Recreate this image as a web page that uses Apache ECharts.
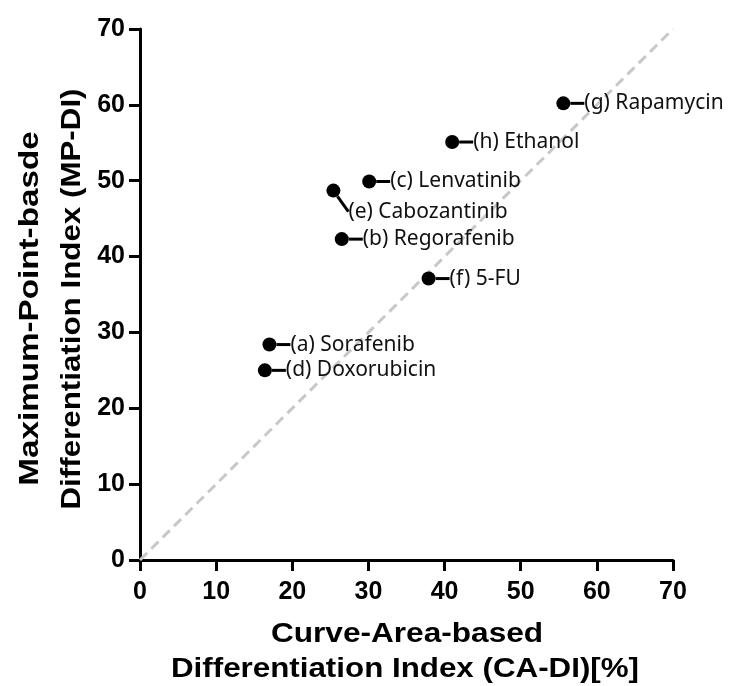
<!DOCTYPE html>
<html>
<head>
<meta charset="utf-8">
<script src="https://cdn.jsdelivr.net/npm/echarts@6/dist/echarts.min.js"></script>
<style>html,body{margin:0;padding:0;background:#fff;}#c{width:736px;height:686px;}</style>
</head>
<body>
<div id="c"></div>
<script>
const names = ['(a) Sorafenib','(b) Regorafenib','(c) Lenvatinib','(d) Doxorubicin','(e) Cabozantinib','(f) 5-FU','(g) Rapamycin','(h) Ethanol'];
const caDI = [17.0, 26.5, 30.1, 16.4, 25.4, 37.9, 55.6, 41.0];
const mpDI = [28.4, 42.3, 49.9, 25.0, 48.7, 37.1, 60.2, 55.1];
const refLine = [[0,0],[70,70]];
const xTitle = ['Curve-Area-based', 'Differentiation Index (CA-DI)[%]'];
const yTitle = ['Maximum-Point-basde', 'Differentiation Index (MP-DI)'];

const chart = echarts.init(document.getElementById('c'), null, {renderer:'canvas'});
const FF = 'Liberation Sans, Arial, sans-serif';
const axisFont = {fontFamily:FF, fontWeight:'bold', color:'#000'};
function title(text, x, y, rot, sx){
  return {type:'text', x:x, y:y, rotation:rot, scaleX:sx, silent:true,
    style:{text:text, x:0, y:0, fontSize:27, fontWeight:'bold', fontFamily:FF, fill:'#000',
      align:'center', verticalAlign:'middle', textAlign:'center', textVerticalAlign:'middle'}};
}
chart.setOption({
  animation:false,
  grid:{left:140, right:63, top:29, bottom:126, outerBoundsMode:'none', containLabel:false},
  xAxis:{
    type:'value', min:0, max:70, interval:10,
    axisLine:{show:true, onZero:false, lineStyle:{color:'#000', width:3}},
    axisTick:{show:true, length:11, lineStyle:{color:'#000', width:3}},
    splitLine:{show:false},
    axisLabel:Object.assign({fontSize:25, margin:20}, axisFont)
  },
  yAxis:{
    type:'value', min:0, max:70, interval:10,
    axisLine:{show:true, onZero:false, lineStyle:{color:'#000', width:3}},
    axisTick:{show:true, length:11, lineStyle:{color:'#000', width:3}},
    splitLine:{show:false},
    axisLabel:Object.assign({fontSize:25, margin:15}, axisFont)
  },
  graphic:[
    title(xTitle[0], 407, 634.5, 0, 1.17),
    title(xTitle[1], 405, 670, 0, 1.16),
    title(yTitle[0], 30.5, 308.5, Math.PI/2, 1.23),
    title(yTitle[1], 72.5, 299, Math.PI/2, 1.16)
  ],
  series:[
    {
      type:'line', data:refLine, symbol:'none', silent:true, z:1,
      lineStyle:{color:'#c8c8c8', width:3, type:[10,6]}
    },
    {
      type:'scatter', z:3,
      data: caDI.map((x,i)=>({value:[x, mpDI[i]], name:names[i]})),
      symbol:'circle', symbolSize:14,
      itemStyle:{color:'#000', opacity:1},
      label:{
        show:true, position:'right', distance:4,
        formatter:p=>p.name,
        fontFamily:'Noto Sans, Noto Sans CJK KR, sans-serif', fontSize:21, color:'#111'
      },
      labelLine:{show:true, lineStyle:{color:'#000', width:3}},
      labelLayout:function(p){
        if (p.dataIndex === 4) return {dx:4, dy:21};
        return {dx:10};
      }
    }
  ]
});
</script>
</body>
</html>
